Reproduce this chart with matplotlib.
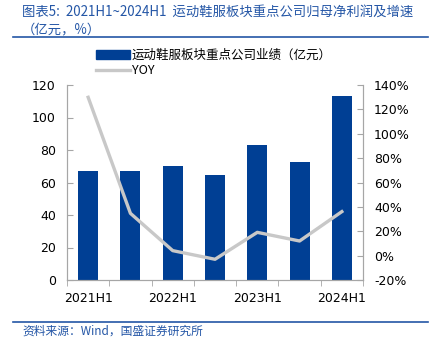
import matplotlib
matplotlib.use('Agg')
import matplotlib.pyplot as plt
from matplotlib.lines import Line2D
from matplotlib.ticker import FuncFormatter, FixedLocator
import numpy as np

plt.rcParams['font.family'] = ['Noto Sans CJK SC', 'DejaVu Sans']

periods = ['2021H1', '2021H2', '2022H1', '2022H2', '2023H1', '2023H2', '2024H1']
profit = [67.2, 66.9, 70.2, 64.8, 83.3, 72.6, 113.2]          # 亿元
yoy = [129.9, 34.7, 4.1, -3.0, 19.1, 12.0, 36.1]               # %

blue = '#003F94'
title_blue = '#2456A6'
grey = '#C8C8C8'
spine = '#A6A6A6'

fig = plt.figure(figsize=(4.33, 3.41), dpi=100)
ax = fig.add_axes([67 / 433, 1 - 280 / 341, 296 / 433, 195 / 341])
ax2 = ax.twinx()

x = np.arange(len(periods))
ax.bar(x, profit, width=0.47, color=blue, zorder=2)
ax2.plot(x, yoy, color=grey, lw=2.4, zorder=3)

ax.set_xlim(-0.5, len(periods) - 0.5)
ax.set_ylim(0, 120)
ax.set_yticks(np.arange(0, 121, 20))
ax2.set_ylim(-20, 140)
ax2.set_yticks(np.arange(-20, 141, 20))
ax2.yaxis.set_major_formatter(FuncFormatter(lambda v, p: f'{v:.0f}%'))

ax.set_xticks(x[::2])
ax.set_xticklabels(periods[::2])
ax.xaxis.set_minor_locator(FixedLocator(np.arange(-0.5, len(periods), 1.0)))
ax.tick_params(axis='x', which='major', length=0, pad=9)
ax.tick_params(axis='x', which='minor', length=4, direction='out', color=spine)
ax.tick_params(axis='y', direction='in', length=4, color=spine, pad=8)
ax2.tick_params(axis='y', direction='in', length=4, color=spine, pad=8)
for a in (ax, ax2):
    a.tick_params(labelsize=9, labelcolor='black')
    for s in a.spines.values():
        s.set_color(spine)
    a.spines['top'].set_visible(False)

for a in (ax, ax2):
    for t in a.get_xticklabels() + a.get_yticklabels():
        t.set_family('DejaVu Sans')

# title and footer
fig.text(22 / 433, 1 - 12 / 341, '图表5:  2021H1~2024H1  运动鞋服板块重点公司归母净利润及增速',
         color=title_blue, fontsize=9.6, style='italic', va='center')
fig.text(22 / 433, 1 - 29 / 341, '（亿元，%）', color=title_blue, fontsize=9.6,
         style='italic', va='center')
fig.add_artist(Line2D([13 / 433, 428 / 433], [1 - 37 / 341] * 2, color=title_blue, lw=1.2))
fig.add_artist(Line2D([13 / 433, 428 / 433], [1 - 322 / 341] * 2, color=title_blue, lw=1.2))
fig.text(22 / 433, 1 - 331 / 341, '资料来源：Wind，国盛证券研究所', color=title_blue,
         fontsize=8.5, style='italic', va='center')

# legend
handles = [plt.Rectangle((0, 0), 1, 1, color=blue),
           Line2D([], [], color=grey, lw=2.4)]
fig.legend(handles, ['运动鞋服板块重点公司业绩（亿元）', 'YOY'],
           loc='upper left', bbox_to_anchor=(96 / 433, 1 - 49 / 341),
           frameon=False, fontsize=9, handlelength=2.7, handleheight=0.8,
           handletextpad=0.15, labelspacing=0.2, borderaxespad=0, borderpad=0)

fig.savefig('out.png', dpi=100)
